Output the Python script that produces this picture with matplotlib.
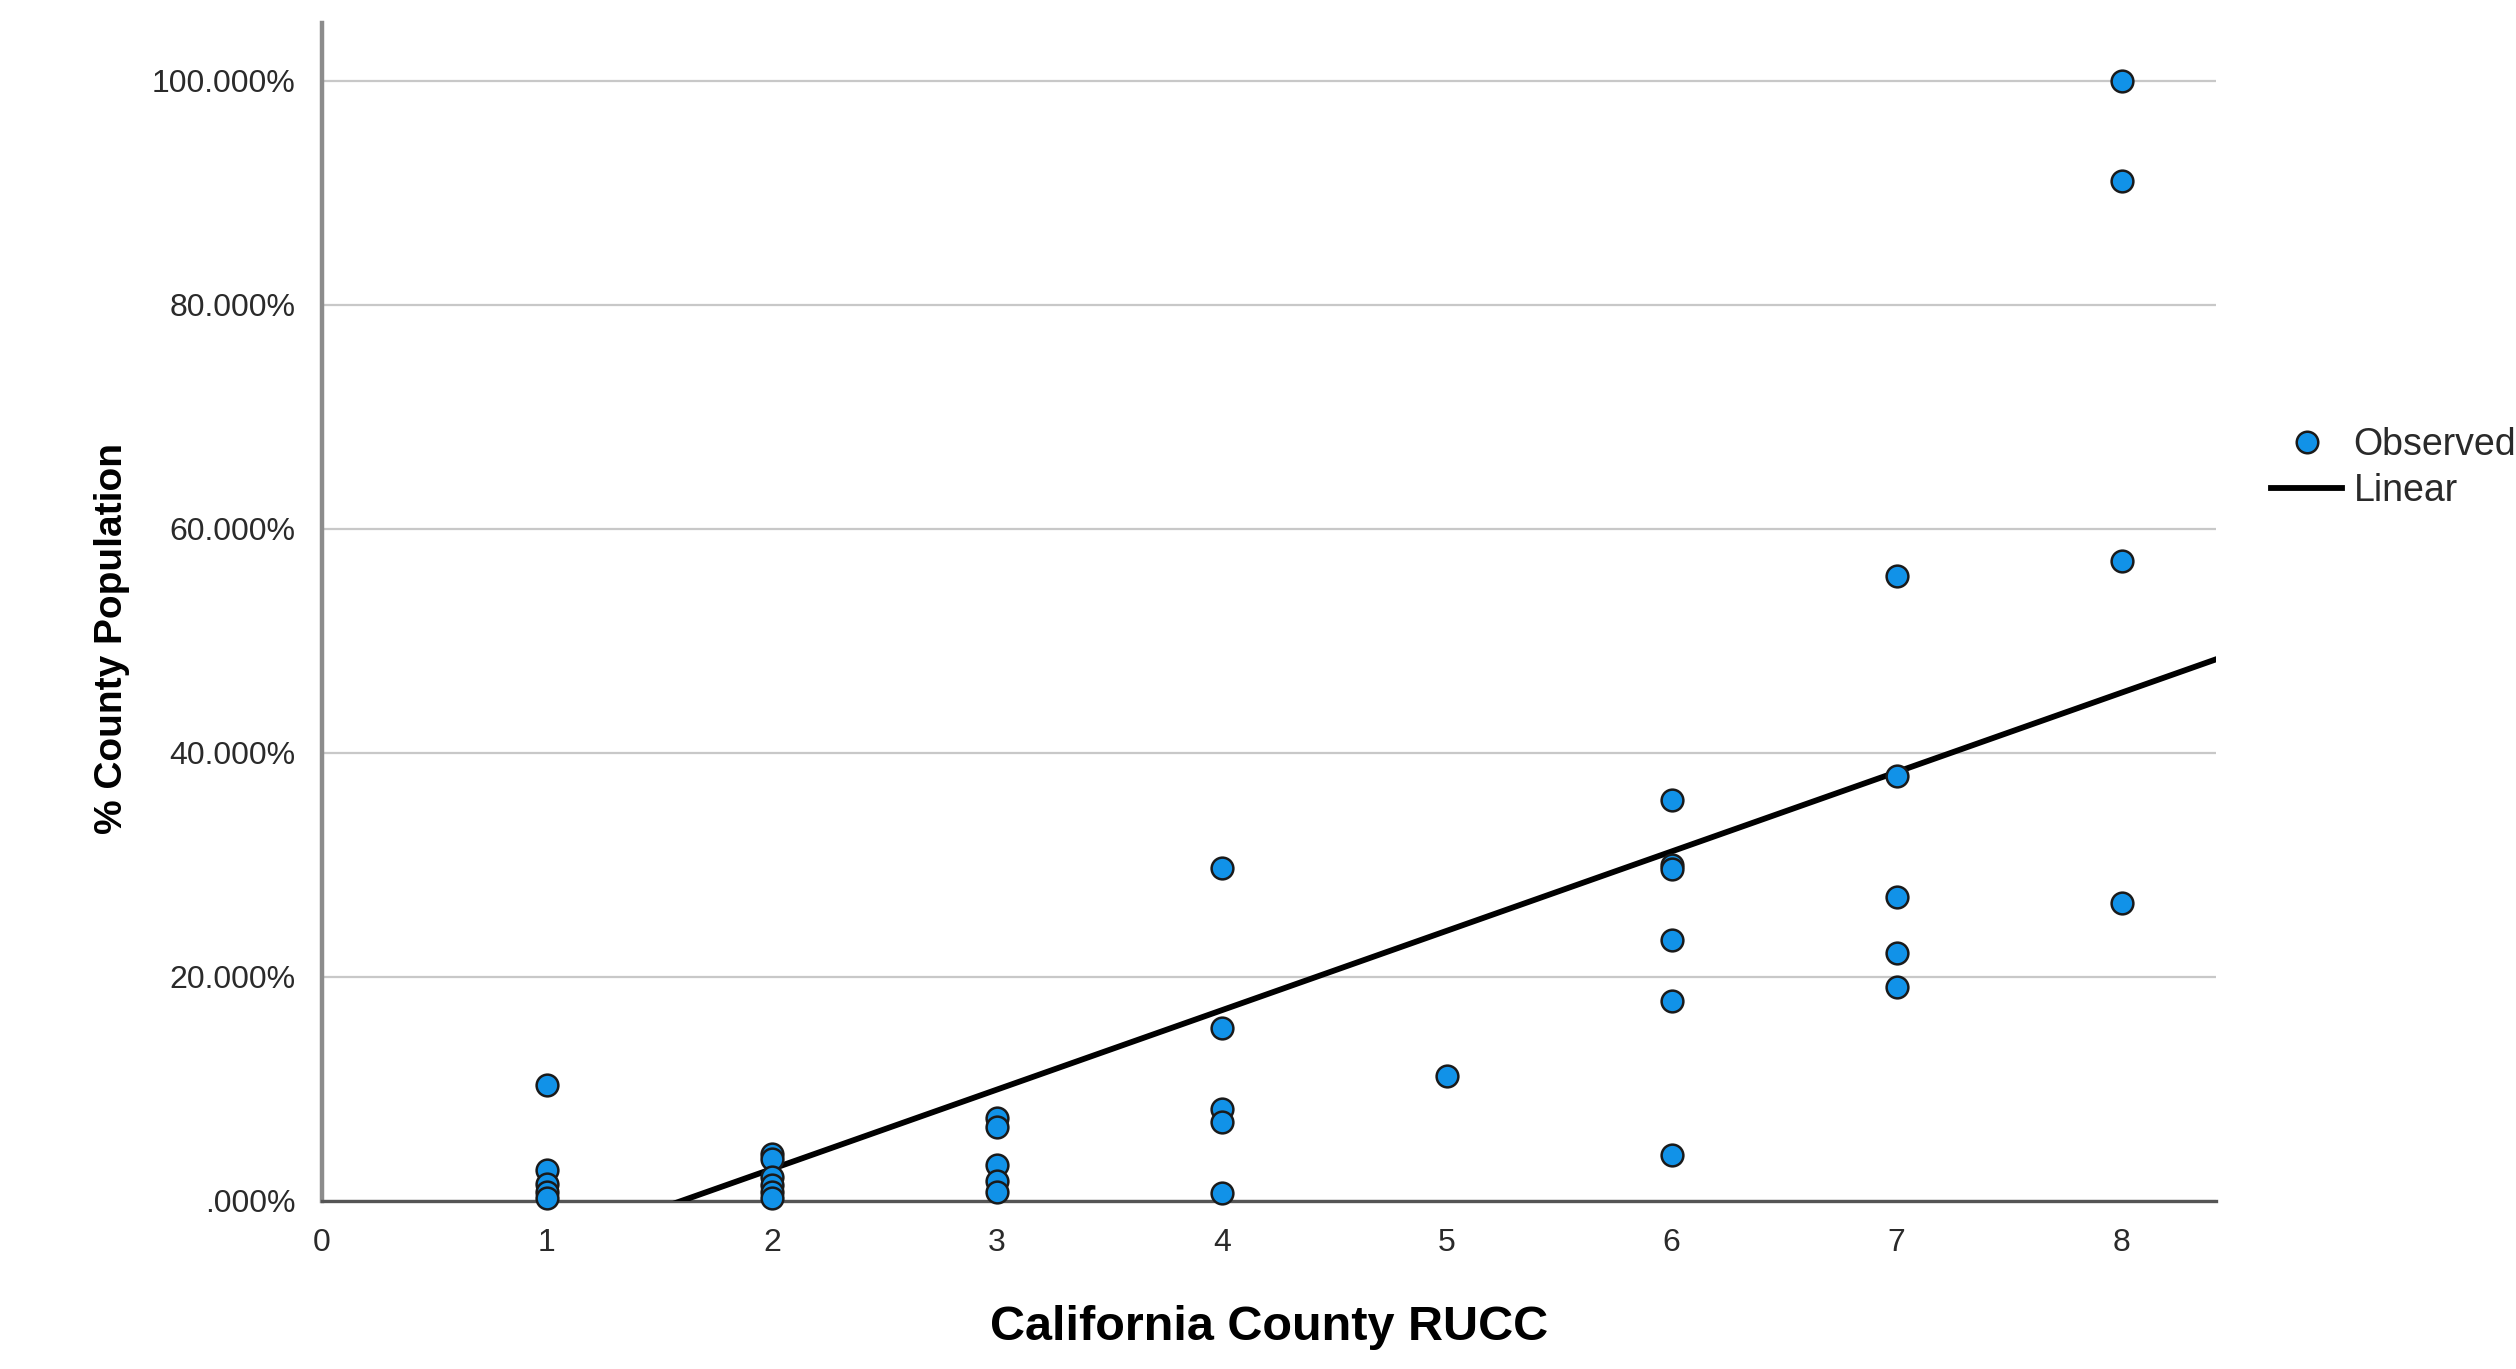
import matplotlib.pyplot as plt
import numpy as np
from matplotlib.lines import Line2D

# RUCC code per county and the observed share of population (%)
rucc = [1, 1, 1, 1, 1,
        2, 2, 2, 2, 2, 2,
        3, 3, 3, 3, 3,
        4, 4, 4, 4, 4,
        5,
        6, 6, 6, 6, 6, 6,
        7, 7, 7, 7, 7,
        8, 8, 8, 8]
pct_pop = [10.3, 2.7, 1.5, 0.8, 0.2,
           4.2, 3.7, 2.1, 1.4, 0.8, 0.2,
           7.4, 6.6, 3.2, 1.8, 0.8,
           29.7, 15.4, 8.2, 7.0, 0.7,
           11.1,
           35.8, 30.0, 29.6, 23.3, 17.8, 4.1,
           55.8, 37.9, 27.1, 22.1, 19.1,
           100.0, 91.1, 57.1, 26.6]

# linear fit
fit_intercept = -11.35
fit_slope = 7.09

x_ticks = [0, 1, 2, 3, 4, 5, 6, 7, 8]
y_ticks = [0, 20, 40, 60, 80, 100]
y_tick_labels = ['.000%', '20.000%', '40.000%', '60.000%', '80.000%', '100.000%']

plt.rcParams['font.family'] = ['Liberation Sans', 'DejaVu Sans']

W, H = 2516, 1369
fig = plt.figure(figsize=(W / 100, H / 100), dpi=100)
ax = fig.add_axes([322 / W, 1 - 1200.7 / H, (2216 - 322) / W, (1200.7 - 22.7) / H])

xmax = 8.42
ax.set_xlim(0, xmax)
ax.set_ylim(0, 105.2)

ax.set_yticks(y_ticks)
ax.set_yticklabels(y_tick_labels)
ax.set_xticks(x_ticks)
ax.tick_params(axis='both', length=0, labelsize=23, colors='#2a2a2a')
ax.tick_params(axis='y', pad=19)
ax.tick_params(axis='x', pad=20)

ax.grid(axis='y', color='#c8c8c8', linewidth=1.6)
ax.set_axisbelow(True)

for s in ['top', 'right']:
    ax.spines[s].set_visible(False)
ax.spines['left'].set_color('#8c8c8c')
ax.spines['left'].set_linewidth(3.2)
ax.spines['bottom'].set_color('#555555')
ax.spines['bottom'].set_linewidth(2.4)

xs = np.array([0, xmax])
ax.plot(xs, fit_intercept + fit_slope * xs, color='black', linewidth=4.2, zorder=3)

ax.scatter(rucc, pct_pop, s=245, color='#1192e8', edgecolor='#1a1a1a',
           linewidth=1.8, zorder=4, clip_on=False)

ax.set_xlabel('California County RUCC', fontsize=35, fontweight='bold')
ax.xaxis.set_label_coords(0.5, -(1327 - 1200.7) / (1200.7 - 22.7), transform=ax.transAxes)
ax.xaxis.label.set_va('center')
ax.set_ylabel('% County Population', fontsize=28, fontweight='bold')
ax.yaxis.set_label_coords(-(322 - 112) / (2216 - 322), (1200.7 - 639) / (1200.7 - 22.7))
ax.yaxis.label.set_va('center')

handles = [
    Line2D([], [], linestyle='none', marker='o', markersize=15.5,
           markerfacecolor='#1192e8', markeredgecolor='#1a1a1a', markeredgewidth=1.8),
    Line2D([], [], color='black', linewidth=4.2),
]
leg = fig.legend(handles, ['Observed', 'Linear'], loc='center left',
                 bbox_to_anchor=(2271 / W, 1 - 468 / H), frameon=False,
                 fontsize=27, handlelength=1.9, handletextpad=0.3,
                 labelspacing=0.25, borderpad=0, borderaxespad=0)
for t in leg.get_texts():
    t.set_color('#2a2a2a')

fig.savefig('out.png', dpi=100)
